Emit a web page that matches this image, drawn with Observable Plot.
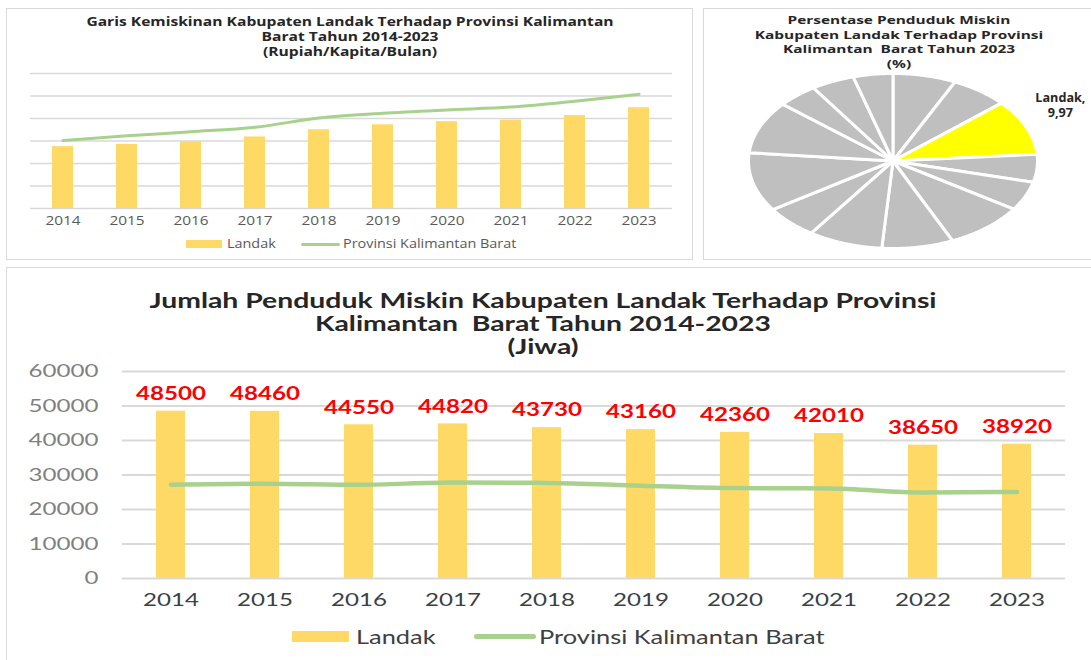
<!DOCTYPE html>
<html>
<head>
<meta charset="utf-8">
<script src="https://cdn.jsdelivr.net/npm/d3@7"></script>
<script src="https://cdn.jsdelivr.net/npm/@observablehq/plot@0.6"></script>
<style>
  html, body { margin: 0; padding: 0; background: #ffffff; }
  #root { position: relative; width: 1091px; height: 660px; overflow: hidden; background: #fff; }
  .panel { position: absolute; border: 1.5px solid #d9d9d9; box-sizing: border-box; }
  .abs { position: absolute; }
  .t1 { font-family: "Open Sans", sans-serif; font-weight: bold; font-size: 12px; color: #262626; text-align: center; line-height: 15px; transform-origin: center; }
  .t3 { font-family: "Lato", sans-serif; font-weight: bold; font-size: 21px; color: #262626; text-align: center; line-height: 23px; transform: scaleX(1.35); transform-origin: center; }
  .leg1 { font-family: "Open Sans", sans-serif; font-size: 12px; color: #595959; white-space: nowrap; line-height: 14px; transform: scaleX(1.2); transform-origin: left center; }
  .leg3 { font-family: "Lato", sans-serif; font-size: 20px; color: #404040; white-space: nowrap; line-height: 22px; transform: scaleX(1.27); transform-origin: left center; }
</style>
</head>
<body>
<div id="root">
  <div class="panel" style="left:6px; top:8px; width:687px; height:252px;"></div>
  <div class="panel" style="left:703px; top:8px; width:395px; height:252px;"></div>
  <div class="panel" style="left:6px; top:267px; width:1092px; height:400px;"></div>

  <div class="abs t1" style="left:0px; top:14px; width:700px; transform: scaleX(1.3);">Garis Kemiskinan Kabupaten Landak Terhadap Provinsi Kalimantan<br>Barat Tahun 2014-2023<br>(Rupiah/Kapita/Bulan)</div>
  <div class="abs t1" style="left:704px; top:13px; width:390px; font-size:11px; line-height:14.5px; transform: scaleX(1.4);">Persentase Penduduk Miskin<br>Kabupaten Landak Terhadap Provinsi<br>Kalimantan&nbsp; Barat Tahun 2023<br>(%)</div>
  <div class="abs t3" style="left:0px; top:288px; width:1086px;">Jumlah Penduduk Miskin Kabupaten Landak Terhadap Provinsi<br>Kalimantan&nbsp; Barat Tahun 2014-2023<br>(Jiwa)</div>

  <div id="c1" class="abs" style="left:0px; top:60px;"></div>
  <div id="c2" class="abs" style="left:703px; top:65px;"></div>
  <div id="c3" class="abs" style="left:0px; top:360px;"></div>

  <!-- legend chart 1 -->
  <div class="abs" style="left:186px; top:240px; width:36px; height:8px; background:#ffd966;"></div>
  <div class="abs leg1" style="left:227px; top:237px;">Landak</div>
  <div class="abs" style="left:301px; top:243px; width:39px; height:3px; background:#a9d18e; border-radius:2px;"></div>
  <div class="abs leg1" style="left:343px; top:237px;">Provinsi Kalimantan Barat</div>

  <!-- legend chart 3 -->
  <div class="abs" style="left:292px; top:631px; width:57px; height:11px; background:#ffd966;"></div>
  <div class="abs leg3" style="left:356px; top:625px;">Landak</div>
  <div class="abs" style="left:474px; top:634px; width:62px; height:5px; background:#a9d18e; border-radius:3px;"></div>
  <div class="abs leg3" style="left:539px; top:625px;">Provinsi Kalimantan Barat</div>
</div>
<script>
// ---------- Data ----------
const years = ["2014","2015","2016","2017","2018","2019","2020","2021","2022","2023"];

// Garis kemiskinan (Rupiah/Kapita/Bulan) (no axis labels shown)
const garisLandak = [275000, 285000, 297000, 318000, 350000, 372000, 386000, 393000, 413000, 448000];
const garisProvinsi = [302000, 323000, 341000, 361000, 402000, 423000, 438000, 451000, 477000, 508000];
const garisTicks = [0, 100000, 200000, 300000, 400000, 500000, 600000];

// Persentase penduduk miskin 2023 (%)
const kabupaten = ["Sambas","Bengkayang","Landak","Mempawah","Sanggau","Ketapang","Sintang","Kapuas Hulu","Sekadau","Melawi","Kayong Utara","Kubu Raya","Kota Pontianak","Kota Singkawang"];
const persenMiskin = [6.85, 6.25, 9.97, 4.99, 5.20, 8.70, 7.76, 8.09, 5.88, 10.56, 9.41, 4.37, 4.69, 4.31];
const highlight = "Landak";

// Jumlah penduduk miskin (Jiwa)
const jumlahLandak = [48500, 48460, 44550, 44820, 43730, 43160, 42360, 42010, 38650, 38920];
const jumlahProvinsi = [27200, 27500, 27200, 27800, 27700, 26900, 26200, 26100, 24900, 25100];
const jumlahTicks = [0, 10000, 20000, 30000, 40000, 50000, 60000];

// ---------- Colors ----------
const barColor = "#ffd966";
const lineColor = "#a9d18e";
const gridColor = "#d9d9d9";

// widen the SVG texts horizontally (reference is horizontally stretched)
function stretchText(svg, s) {
  svg.querySelectorAll("text").forEach(t => {
    const x = parseFloat(t.getAttribute("x")) || 0;
    const prev = t.getAttribute("transform") || "";
    t.setAttribute("transform", `${prev} translate(${x},0) scale(${s},1) translate(${-x},0)`);
  });
}

// ---------- Chart 1 ----------
const garis = years.map((y, i) => ({year: y, landak: garisLandak[i], prov: garisProvinsi[i]}));
const c1 = Plot.plot({
  width: 700, height: 175,
  marginLeft: 30, marginRight: 28, marginTop: 13, marginBottom: 27,
  style: {fontFamily: "Open Sans, sans-serif", fontSize: "12px", color: "#595959", background: "transparent", overflow: "visible"},
  x: {type: "band", domain: years, paddingInner: 0.67, paddingOuter: 0.335, tickSize: 0, tickPadding: 8, label: null},
  y: {domain: [0, 600000], axis: null},
  marks: [
    Plot.ruleY(garisTicks, {stroke: gridColor, strokeWidth: 1.5}),
    Plot.barY(garis, {x: "year", y: "landak", fill: barColor}),
    Plot.line(garis, {x: "year", y: "prov", stroke: lineColor, strokeWidth: 3, curve: "monotone-x"})
  ]
});
stretchText(c1, 1.28);
document.getElementById("c1").appendChild(c1);

// ---------- Chart 2 (pie) ----------
const items = kabupaten.map((k, i) => ({name: k, v: persenMiskin[i]}));
const arcs = d3.pie().sort(null).value(d => d.v)(items);
const piePts = [];
arcs.forEach((a, i) => {
  const fill = a.data.name === highlight ? "#ffff00" : "#bfbfbf";
  piePts.push({id: i, x: 0, y: 0, fill});
  const n = Math.max(8, Math.ceil((a.endAngle - a.startAngle) / 0.01));
  for (let k = 0; k <= n; k++) {
    const t = a.startAngle + (a.endAngle - a.startAngle) * k / n;
    piePts.push({id: i, x: Math.sin(t), y: Math.cos(t), fill});
  }
  piePts.push({id: i, x: 0, y: 0, fill});
});
const hl = arcs.find(a => a.data.name === highlight);
const mid = (hl.startAngle + hl.endAngle) / 2;
const labelData = [{x: 1.28 * Math.sin(mid), y: 1.28 * Math.cos(mid), text: hl.data.name + ",\n" + String(hl.data.v).replace(".", ",")}];
const c2 = Plot.plot({
  width: 388, height: 190,
  margin: 0,
  style: {fontFamily: "Open Sans, sans-serif", background: "transparent", overflow: "visible"},
  x: {domain: [-1, 1], range: [45, 334], axis: null},
  y: {domain: [-1, 1], range: [183, 8], axis: null},
  marks: [
    Plot.line(piePts, {x: "x", y: "y", z: "id", fill: "fill", stroke: "#ffffff", strokeWidth: 3, strokeLinejoin: "round"}),
    Plot.text(labelData, {x: "x", y: "y", text: "text", dy: -13, dx: -3, fontWeight: "bold", fontSize: 11.5, fill: "#262626", lineHeight: 1.3, textAnchor: "middle"})
  ]
});
stretchText(c2, 1.1);
document.getElementById("c2").appendChild(c2);

// ---------- Chart 3 ----------
const jumlah = years.map((y, i) => ({year: y, landak: jumlahLandak[i], prov: jumlahProvinsi[i]}));
const c3 = Plot.plot({
  width: 1091, height: 260,
  marginLeft: 122, marginRight: 26, marginTop: 11, marginBottom: 42,
  style: {fontFamily: "Lato, sans-serif", fontSize: "18px", color: "#7f7f7f", background: "transparent", overflow: "visible"},
  x: {type: "band", domain: years, paddingInner: 0.69, paddingOuter: 0.345, tickSize: 0, tickPadding: 15, label: null},
  y: {domain: [0, 60000], ticks: jumlahTicks, tickSize: 0, tickPadding: 24, tickFormat: d3.format("d"), label: null},
  marks: [
    Plot.ruleY(jumlahTicks, {stroke: gridColor, strokeWidth: 2}),
    Plot.barY(jumlah, {x: "year", y: "landak", fill: barColor}),
    Plot.line(jumlah, {x: "year", y: "prov", stroke: lineColor, strokeWidth: 4.5, curve: "monotone-x"}),
    Plot.text(jumlah, {x: "year", y: "landak", text: d => String(d.landak), dy: -17, fill: "#ff0000", fontWeight: "bold", fontSize: 18})
  ]
});
// darker x tick labels
c3.querySelectorAll("g").forEach(g => {
  const lab = g.getAttribute("aria-label") || "";
  if (lab.startsWith("x-axis")) g.setAttribute("fill", "#404040");
});
stretchText(c3, 1.34);
document.getElementById("c3").appendChild(c3);
</script>
</body>
</html>
